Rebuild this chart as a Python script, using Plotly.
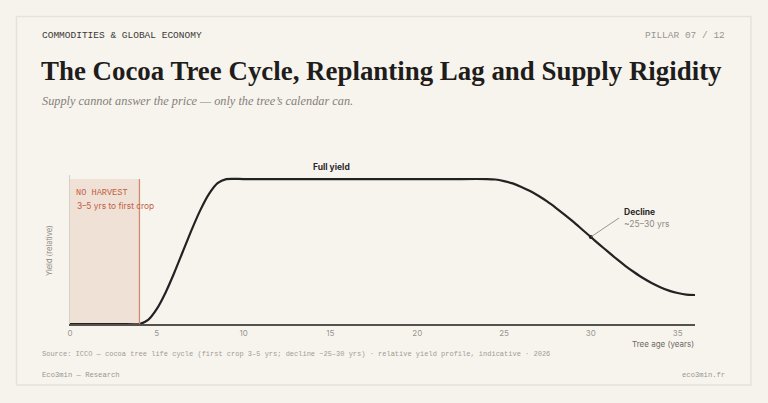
import plotly.graph_objects as go

# ---- data ----
ages = [0, 1, 2, 3, 4, 4.5, 5, 5.5, 6, 6.5, 7, 7.5, 8, 8.5, 9,
        10, 12, 14, 16, 18, 20, 22, 24,
        24.5, 25, 25.5, 26, 26.5, 27, 27.5, 28, 28.5, 29, 29.5, 30,
        30.5, 31, 31.5, 32, 32.5, 33, 33.5, 34, 34.5, 35, 35.5, 36]
yields = [0, 0, 0, 0, 0, 0.028, 0.104, 0.216, 0.352, 0.50, 0.648, 0.784, 0.896, 0.972, 1.0,
          1.0, 1.0, 1.0, 1.0, 1.0, 1.0, 1.0, 1.0,
          0.997, 0.986, 0.970, 0.946, 0.917, 0.883, 0.844, 0.800, 0.753, 0.704, 0.652, 0.600,
          0.548, 0.497, 0.447, 0.400, 0.357, 0.317, 0.283, 0.254, 0.230, 0.214, 0.203, 0.200]
x_ticks = [0, 5, 10, 15, 20, 25, 30, 35]
no_harvest_end = 4
decline_age = 30
decline_yield = 0.60

BG = "#f6f3ed"
INK = "#222222"
RUST = "#c2603f"
SANS = "Inter, Roboto, sans-serif"
MONO = "Liberation Mono, DejaVu Sans Mono, monospace"
SERIF = "Liberation Serif, DejaVu Serif, serif"

# plot area in pixels
L, R, T, B = 70, 695, 175, 324
W, H = 768, 403
def px(x):
    return (x - L) / (R - L)
def py(y):
    return (B - y) / (B - T)

fig = go.Figure()

fig.add_trace(go.Scatter(
    x=ages, y=yields, mode="lines",
    line=dict(color=INK, width=2.2, shape="spline", smoothing=0.6),
    hoverinfo="skip", showlegend=False,
))
fig.add_trace(go.Scatter(
    x=[decline_age], y=[decline_yield], mode="markers",
    marker=dict(color=INK, size=4), hoverinfo="skip", showlegend=False,
))

shapes = [
    # card
    dict(type="rect", xref="paper", yref="paper",
         x0=px(16.5), x1=px(751), y0=py(385), y1=py(16.5),
         line=dict(color="#e7e2d9", width=1.5), fillcolor="#f7f4ee", layer="below"),
    # no-harvest band
    dict(type="rect", xref="x", yref="y", x0=0, x1=no_harvest_end, y0=0, y1=1.0,
         line=dict(width=0), fillcolor="rgba(205,130,100,0.17)", layer="below"),
    dict(type="line", xref="x", yref="y", x0=no_harvest_end, x1=no_harvest_end, y0=0, y1=1.0,
         line=dict(color="#cf8a70", width=1.3)),
    # leader line for decline
    dict(type="line", xref="paper", yref="paper",
         x0=px(591.5), y0=py(236.5), x1=px(619), y1=py(218),
         line=dict(color="#9a958e", width=1)),
]

ann = []
def txt(text, x, y, size, color, family=SANS, xanchor="left", yanchor="middle", **kw):
    ann.append(dict(text=text, x=px(x), y=py(y), xref="paper", yref="paper",
                    xanchor=xanchor, yanchor=yanchor, showarrow=False,
                    font=dict(size=size, color=color, family=family, **kw)))

txt("COMMODITIES &amp; GLOBAL ECONOMY", 40, 35, 9.5, "#3a3835", MONO)
txt("PILLAR 07 / 12", 727, 35, 9.5, "#9a958e", MONO, xanchor="right")
txt("The Cocoa Tree Cycle, Replanting Lag and Supply Rigidity", 39, 71, 26.9, "#1e1d1b", SERIF, weight=600)
txt("<i>Supply cannot answer the price — only the tree’s calendar can.</i>", 40, 101, 12.3, "#85807a", SERIF)
txt("Source: ICCO — cocoa tree life cycle (first crop 3–5 yrs; decline ~25–30 yrs) · relative yield profile, indicative · 2026",
    40, 354, 7, "#a19b94", MONO)
txt("Eco3min — Research", 40, 375, 7.2, "#9a958e", MONO)
txt("eco3min.fr", 727, 375, 7.2, "#9a958e", MONO, xanchor="right")

txt("NO HARVEST", 74, 193, 8.6, RUST, MONO)
txt("3–5 yrs to first crop", 75, 206, 8.4, RUST)
txt("<b>Full yield</b>", 331, 167, 8.5, "#2a2927", xanchor="center")
txt("<b>Decline</b>", 622, 212, 8.5, "#2a2927")
txt("~25–30 yrs", 622, 224, 8.5, "#8f8a83")
txt("Tree age (years)", 696, 344, 8, "#6f6a64", xanchor="right")
txt("Yield (relative)", 49, 251, 7.5, "#8f8a83", xanchor="center", yanchor="middle")
ann[-1]["textangle"] = -90

fig.update_layout(
    width=W, height=H,
    margin=dict(l=L, r=W - R, t=T, b=H - B, pad=0),
    paper_bgcolor=BG, plot_bgcolor="rgba(0,0,0,0)",
    shapes=shapes, annotations=ann,
    xaxis=dict(range=[0, 36], tickvals=x_ticks, showgrid=False, zeroline=False,
               showline=True, linecolor="#55524e", linewidth=2, ticks="",
               tickfont=dict(size=8, color="#9a958e", family=SANS), fixedrange=True),
    yaxis=dict(range=[0, 1.028], showticklabels=False, showgrid=False, zeroline=False,
               showline=True, linecolor="#d3cec6", linewidth=1, ticks="", fixedrange=True),
    showlegend=False,
)

fig.write_html(
    "out.html",
    config={"displayModeBar": False},
    post_script="document.body.style.margin='0';document.body.style.background='#f6f3ed';document.body.style.overflow='hidden';",
)
